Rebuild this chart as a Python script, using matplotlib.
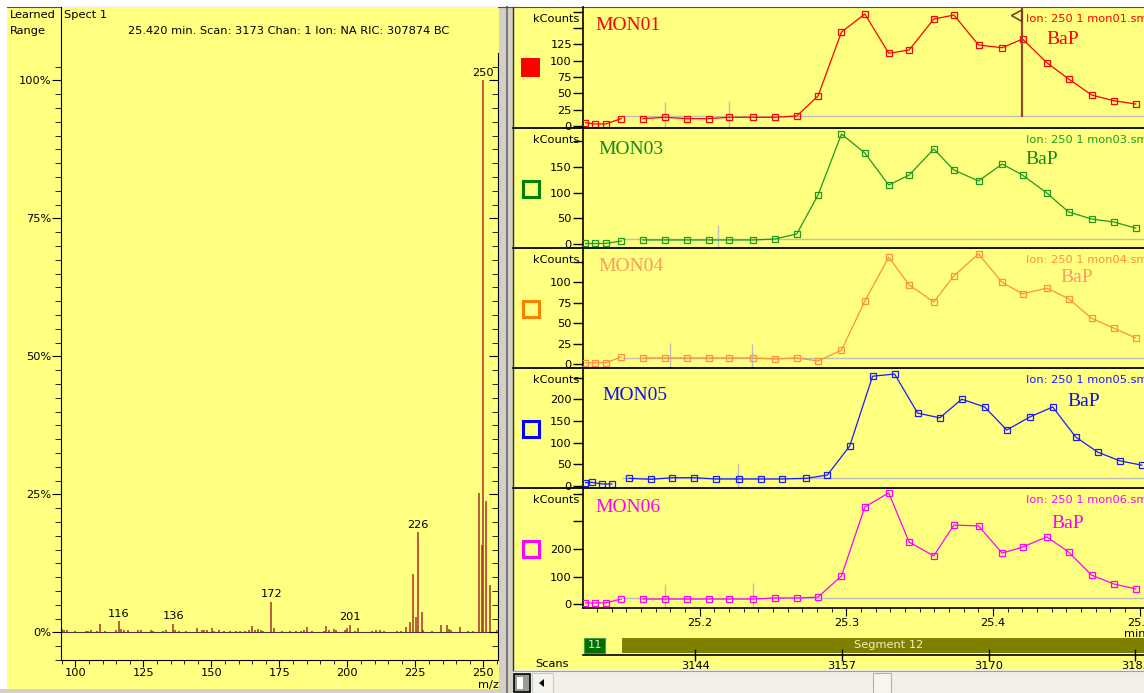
import matplotlib
matplotlib.use("Agg")
import matplotlib.pyplot as plt
import numpy as np
from matplotlib.patches import Rectangle, Polygon
from matplotlib.lines import Line2D
from matplotlib.ticker import FixedLocator, MultipleLocator, FuncFormatter

plt.rcParams['font.family'] = ['DejaVu Sans']

W, H = 1144, 693
YELLOW = '#ffff80'
WIN_GRAY = '#d4d0c8'
BAR_RED = '#a8302a'
FS = 8.2

# Mass spectrum at scan 3173 (relative abundance, %)
spec_mz = [95.0, 95.8, 97.1, 99.9, 104.0, 104.8, 105.8, 107.9, 108.9, 111.0,
           115.0, 116.0, 116.8, 118.0, 119.5, 122.9, 124.2, 127.8, 128.7, 132.1,
           133.3, 136.0, 136.7, 138.3, 140.8, 144.7, 146.6, 147.4, 148.4, 150.3,
           151.1, 152.7, 154.5, 157.0, 158.9, 160.7, 162.3, 163.8, 165.0, 166.2,
           167.1, 168.1, 168.9, 172.0, 173.0, 176.0, 179.1, 181.3, 183.0, 184.0,
           185.3, 187.1, 191.4, 192.0, 193.2, 195.1, 196.0, 199.1, 200.0, 201.0,
           203.0, 204.0, 209.2, 210.4, 212.0, 213.5, 218.2, 219.6, 221.4, 223.1,
           224.0, 225.3, 226.0, 227.3, 228.0, 231.1, 234.4, 236.5, 237.4, 238.3,
           241.4, 244.5, 246.2, 248.5, 249.4, 250.0, 251.1, 252.6, 254.9]
spec_pct = [0.6, 0.4, 0.4, 0.3, 0.3, 0.3, 0.5, 0.3, 1.5, 0.2,
            0.5, 2.0, 0.6, 0.4, 0.4, 0.5, 0.5, 0.5, 0.2, 0.2,
            0.4, 1.5, 0.4, 0.2, 0.3, 0.8, 0.4, 0.5, 0.4, 0.8,
            0.3, 0.5, 0.2, 0.2, 0.2, 0.3, 0.3, 0.4, 1.1, 0.4,
            0.6, 0.5, 0.3, 5.5, 0.8, 0.3, 0.2, 0.3, 0.2, 0.5,
            0.9, 0.2, 0.3, 1.2, 0.5, 0.6, 0.4, 0.4, 0.8, 1.4,
            0.2, 0.8, 0.2, 0.4, 0.4, 0.2, 0.3, 0.3, 0.9, 1.9,
            10.5, 2.8, 18.1, 3.7, 0.5, 0.3, 1.3, 1.3, 0.6, 0.4,
            0.9, 0.2, 0.2, 25.2, 15.8, 100.0, 23.8, 8.5, 0.5]
spec_labels = [116, 136, 172, 201, 226, 250]
spec_header = "25.420 min. Scan: 3173 Chan: 1 Ion: NA RIC: 307874 BC"

# Ion 250 monitor traces (time in min, intensity in kCounts)
mon_times = [25.1222, 25.1284, 25.1359, 25.1466, 25.1613, 25.1763, 25.1911,
             25.2061, 25.2200, 25.2364, 25.2512, 25.2662, 25.2807, 25.2967,
             25.3126, 25.3289, 25.3428, 25.3596, 25.3733, 25.3901, 25.4062,
             25.4201, 25.4367, 25.4515, 25.4672, 25.4822, 25.4972]
mon05_times = [25.1222, 25.1265, 25.1334, 25.1402, 25.1518, 25.1666, 25.1814,
               25.1961, 25.2109, 25.2268, 25.2416, 25.2564, 25.2728, 25.2871,
               25.3023, 25.3179, 25.3329, 25.3486, 25.3637, 25.3787, 25.3943,
               25.4094, 25.4250, 25.4407, 25.4563, 25.4714, 25.4864, 25.5014]
mon01_kc = [5.0, 3.1, 3.1, 11.2, 11.2, 13.3, 11.2, 11.2, 13.3, 13.3, 13.3, 15.3,
            45.9, 143.7, 171.3, 111.2, 116.2, 163.6, 169.7, 123.9, 119.7, 133.0,
            96.8, 71.9, 47.4, 38.7, 33.6]
mon03_kc = [1.0, 1.0, 1.0, 5.8, 7.8, 7.8, 7.8, 7.8, 7.8, 7.8, 9.7, 19.5,
            95.3, 214.0, 177.0, 114.8, 134.0, 184.8, 144.0, 122.6, 155.6, 134.0,
            99.2, 62.3, 48.6, 42.8, 31.1]
mon04_kc = [1.5, 1.5, 1.5, 8.6, 7.4, 7.4, 7.4, 7.4, 7.4, 7.4, 6.1, 7.4,
            3.7, 17.0, 77.0, 131.0, 97.0, 76.0, 108.0, 135.0, 100.0, 86.0,
            93.0, 80.0, 56.0, 44.0, 32.0]
mon05_kc = [7.6, 8.5, 4.6, 4.6, 17.7, 15.4, 19.1, 19.1, 16.1, 16.1, 16.1, 16.1,
            17.7, 25.3, 92.0, 253.0, 258.0, 168.0, 157.0, 200.0, 182.0, 129.0,
            159.0, 182.0, 113.0, 78.0, 58.0, 48.0]
mon06_kc = [4.0, 4.0, 4.0, 18.0, 18.0, 18.0, 18.0, 18.0, 18.0, 18.0, 22.0, 22.0,
            25.0, 102.0, 353.0, 404.0, 225.0, 175.0, 287.0, 284.0, 185.0, 207.0,
            244.0, 189.0, 105.0, 73.0, 55.0]
mon_names = ['MON01', 'MON03', 'MON04', 'MON05', 'MON06']
mon_files = ['mon01', 'mon03', 'mon04', 'mon05', 'mon06']
baseline_kc = [15.3, 9.7, 7.4, 19.0, 22.0]
spike_times = [[25.1763, 25.2200], [25.2123], [25.1795, 25.2355], [25.2259], [25.1761, 25.2362]]
spike_tops = [[36.7, 38.2], [37.0], [26.0, 24.5], [53.0], [73.0, 76.0]]
cursor_time = 25.420
cursor_scan = 3173
seg12_start = 25.147
scan_ticks = [3144, 3157, 3170, 3183]
time_ticks = [25.2, 25.3, 25.4, 25.5]

fig = plt.figure(figsize=(W / 100, H / 100), dpi=100)
fig.patch.set_facecolor('white')


def px_axes(x0, y0, x1, y1):
    return fig.add_axes([x0 / W, 1 - y1 / H, (x1 - x0) / W, (y1 - y0) / H])


def fig_rect(x0, y0, x1, y1, z=-5, **kw):
    r = Rectangle((x0 / W, 1 - y1 / H), (x1 - x0) / W, (y1 - y0) / H,
                  transform=fig.transFigure, zorder=z, **kw)
    fig.patches.append(r)
    return r


def fig_poly(pts, **kw):
    fig.patches.append(Polygon([(x / W, 1 - y / H) for x, y in pts], closed=True,
                               transform=fig.transFigure, **kw))


def fig_line(xs, ys, **kw):
    fig.lines.append(Line2D([x / W for x in xs], [1 - y / H for y in ys],
                            transform=fig.transFigure, **kw))


def fig_text(x, y, s, **kw):
    kw.setdefault('fontsize', FS)
    return fig.text(x / W, 1 - y / H, s, **kw)


# window backgrounds
fig_rect(7, 7, 499, 689, facecolor=YELLOW, edgecolor='none')
fig_rect(0, 689, 499, 693, facecolor=WIN_GRAY, edgecolor='none')
fig_rect(499, 7, 513, 693, facecolor=WIN_GRAY, edgecolor='none')
fig_rect(513, 7, 1144, 670, facecolor=YELLOW, edgecolor='none')
fig_rect(513, 670, 1144, 693, facecolor='#f1efe6', edgecolor='none')
fig_line([507, 507], [7, 693], color='#7a7a7a', lw=1.5, zorder=-4)
fig_line([512.5, 512.5], [7, 670], color='#303030', lw=1, zorder=-4)
fig_line([7, 1144], [7, 7], color='#505050', lw=0.8, zorder=-4)
fig_line([513, 1144], [670.5, 670.5], color='#a0a0a0', lw=0.8, zorder=-4)

# scrollbar bits
fig_rect(514, 674, 530, 692, z=2, facecolor='#9a9a9a', edgecolor='black', lw=1.2)
fig_rect(517, 677, 523, 689, z=3, facecolor='white', edgecolor='none')
fig_rect(532, 673, 553, 693, z=2, facecolor='#f4f3ee', edgecolor='#c8c8c8', lw=0.8)
fig_poly([(539, 683), (544, 679), (544, 687)], facecolor='black', zorder=3)
fig_rect(873, 673, 891, 693, z=2, facecolor='#f6f5f0', edgecolor='#b0b0b0', lw=0.8)

# ---------------- mass spectrum ----------------
ax = px_axes(61, 7, 498, 660)
ax.set_facecolor(YELLOW)
ax.vlines(spec_mz, 0, spec_pct, color=BAR_RED, lw=1.1)
ax.axhline(0, color='#4a3a30', lw=0.8, zorder=1)
ax.set_xlim(94.74, 255.4)
ax.set_ylim(-5.0, 113.3)
ax.spines['top'].set_visible(False)
ax.spines['right'].set_bounds(-5.0, 105.0)
ax.xaxis.set_major_locator(FixedLocator([100, 125, 150, 175, 200, 225, 250]))
ax.xaxis.set_minor_locator(MultipleLocator(5))
ax.yaxis.set_major_locator(FixedLocator([0, 25, 50, 75, 100]))
ax.yaxis.set_minor_locator(FixedLocator(np.arange(-5, 103, 2.5)))
ax.yaxis.set_major_formatter(FuncFormatter(lambda v, p: f'{int(v)}%'))
ax.tick_params(axis='y', which='both', left=True, right=True, direction='out',
               labelsize=FS, pad=0.5)
ax.tick_params(axis='y', which='major', length=6.5)
ax.tick_params(axis='y', which='minor', length=4)
ax.tick_params(axis='x', which='major', direction='out', length=5, labelsize=FS, pad=1)
ax.tick_params(axis='x', which='minor', direction='out', length=3)
# ticks on the right-hand scale point back into the plot
for t in ax.yaxis.get_major_ticks() + ax.yaxis.get_minor_ticks():
    t.tick2line.set_marker(0)
for m in spec_labels:
    h = spec_pct[spec_mz.index(float(m))]
    ax.annotate(str(m), (m, h), xytext=(0, 2), textcoords='offset points',
                ha='center', va='bottom', fontsize=FS)

fig_text(10, 15, 'Learned', va='center')
fig_text(10, 31, 'Range', va='center')
fig_text(64, 15, 'Spect 1', va='center')
fig_text(128, 31, spec_header, va='center')
fig_text(488, 685, 'm/z', ha='center', va='center')

# ---------------- monitor chromatograms ----------------
T0, T1 = 25.1205, 25.5029
tops = [7, 128, 248, 368, 488, 608]
ylims = [(-3.1, 182.0), (-7.8, 225.7), (-4.9, 142.2), (-4.6, 271.9), (-14.5, 421.8)]
steps = [25, 50, 25, 50, 100]
label_max = [125, 150, 100, 200, 200]
trace_colors = ['#ff0000', '#1f9a1f', '#ff9040', '#1a1aff', '#ff00ff']
name_colors = ['#ff0000', '#148a14', '#ff9a60', '#1010e8', '#ff00ff']
box_colors = ['#ff0000', '#008000', '#ff8000', '#0000ff', '#ff00ff']
name_pos = [(595, 25), (598, 150), (598, 267), (602, 395), (595, 508)]
bap_pos = [(1063, 40), (1042, 160), (1077, 277), (1084, 402), (1068, 523)]
series = [(mon_times, mon01_kc), (mon_times, mon03_kc), (mon_times, mon04_kc),
          (mon05_times, mon05_kc), (mon_times, mon06_kc)]

for i in range(5):
    a = px_axes(583, tops[i], 1144, tops[i + 1])
    a.set_facecolor('none')
    a.set_xlim(T0, T1)
    a.set_ylim(*ylims[i])
    a.spines['top'].set_visible(False)
    a.spines['right'].set_visible(False)
    a.spines['bottom'].set_visible(i == 4)
    a.spines['left'].set_linewidth(1.2)
    a.spines['bottom'].set_linewidth(1.2)
    yt = np.arange(0, ylims[i][1], steps[i])
    a.yaxis.set_major_locator(FixedLocator(yt))
    lm = label_max[i]
    a.yaxis.set_major_formatter(FuncFormatter(lambda v, p, lm=lm: f'{int(round(v))}' if v <= lm else ''))
    a.tick_params(axis='y', direction='out', length=7, width=1, labelsize=FS, pad=1)

    t = np.array(series[i][0])
    v = np.array(series[i][1])
    a.hlines(baseline_kc[i], seg12_start, T1, color='#bdbdbd', lw=1, zorder=1)
    a.vlines(spike_times[i], ylims[i][0], spike_tops[i], color='#bdbdbd', lw=1, zorder=1)
    early = t < seg12_start
    for mask in (early, ~early):
        a.plot(t[mask], v[mask], color=trace_colors[i], lw=0.9, marker='s', ms=4.6,
               mfc='none', mew=0.9, zorder=3)

    if i == 4:
        a.xaxis.set_major_locator(FixedLocator(time_ticks))
        a.xaxis.set_minor_locator(MultipleLocator(0.01))
        a.xaxis.set_major_formatter(FuncFormatter(lambda v, p: f'{v:.1f}'))
        a.tick_params(axis='x', which='major', direction='out', length=5.5, labelsize=FS, pad=1.5)
        a.tick_params(axis='x', which='minor', direction='out', length=3)
    else:
        a.tick_params(axis='x', which='both', bottom=False, labelbottom=False)

    if i == 0:
        a.vlines(cursor_time, 13.8, ylims[0][1], color='#8b4a2b', lw=1.6, zorder=4)
        fig_poly([(1022, 10), (1011.5, 15.5), (1022, 21.5)], facecolor='none',
                 edgecolor='#6b3a20', lw=1.1, zorder=5)

    top = tops[i]
    fig_text(579, top + 12, 'kCounts', ha='right', va='center')
    nx, ny = name_pos[i]
    fig_text(nx, ny, mon_names[i], fontsize=14, family='Liberation Serif',
             color=name_colors[i], va='center')
    bx, by = bap_pos[i]
    fig_text(bx, by, 'BaP', fontsize=14, family='Liberation Serif',
             color=name_colors[i], ha='center', va='center')
    fig_text(1026, top + 12, f'Ion: 250 1 {mon_files[i]}.sms',
             color=trace_colors[i], va='center')

    cy = top + 61
    if i == 0:
        fig_rect(521, cy - 10, 540, cy + 9, z=2, facecolor=box_colors[i], edgecolor='none')
    else:
        fig_rect(522.5, cy - 8.5, 538.5, cy + 7.5, z=2, facecolor='none',
                 edgecolor=box_colors[i], lw=2.2)

    if i < 4:
        fig_line([513, 1144], [tops[i + 1], tops[i + 1]], color='black', lw=1.3, zorder=4)

fig_text(1124, 634, 'min', va='center')

# segment bar and scan axis
sa = px_axes(583, 636, 1144, 655)
sa.set_facecolor('none')
sa.set_xlim(T0, T1)
sa.set_ylim(0, 1)
for s in ['top', 'right', 'left']:
    sa.spines[s].set_visible(False)
sa.spines['bottom'].set_linewidth(1.2)
sa.add_patch(Rectangle((25.1215, 0.1), 0.0139, 0.8, facecolor='#007000',
                       edgecolor='#40a040', lw=0.8))
sa.text(25.1215 + 0.0139 / 2, 0.5, '11', color='#e8f0e0', fontsize=FS, ha='center', va='center')
sa.add_patch(Rectangle((seg12_start, 0.1), T1 - seg12_start + 0.01, 0.8,
                       facecolor='#808000', edgecolor='none'))
sa.text(25.3285, 0.5, 'Segment 12', color='#f2f2c0', fontsize=FS, ha='center', va='center')
scan_pos = [cursor_time + (s - cursor_scan) * 0.1 / 13 for s in scan_ticks]
sa.xaxis.set_major_locator(FixedLocator(scan_pos))
sa.set_xticklabels([str(s) for s in scan_ticks])
sa.tick_params(axis='x', direction='inout', length=8, width=1, labelsize=FS, pad=0)
sa.set_yticks([])
fig_text(552, 664, 'Scans', ha='center', va='center')

fig.savefig('out.png', dpi=100, facecolor=fig.get_facecolor())
